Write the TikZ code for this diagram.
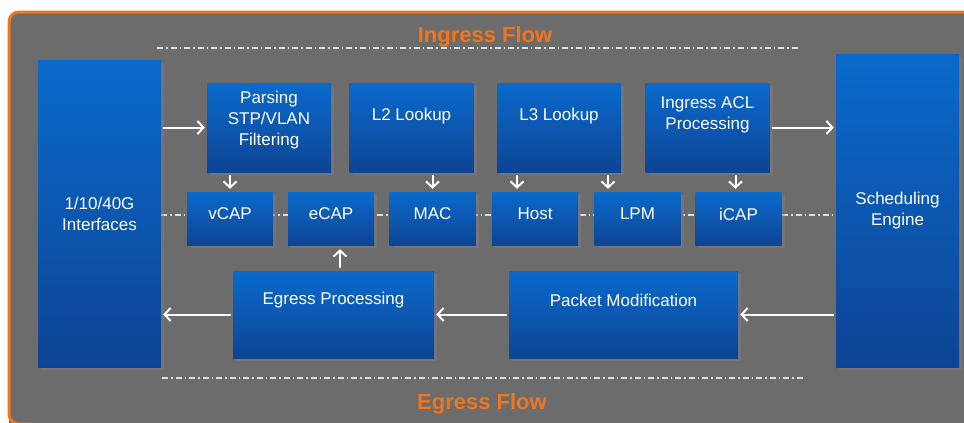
\documentclass[tikz,border=0pt]{standalone}
\usepackage{fontspec}
\setmainfont{Liberation Sans}
\usetikzlibrary{arrows.meta,shadows}
\definecolor{frameGray}{RGB}{108,108,108}
\definecolor{flowOrange}{RGB}{240,118,30}
\definecolor{blockTop}{RGB}{10,106,204}
\definecolor{blockBottom}{RGB}{14,68,148}
\definecolor{dashGray}{RGB}{222,222,222}

\begin{document}
\begin{tikzpicture}[x=1pt, y=-1pt,
    every node/.append style={font=\fontsize{17}{21}\selectfont, text=white, align=center},
    block/.style={rectangle, inner sep=0pt, top color=blockTop, bottom color=blockBottom,
      drop shadow={shadow xshift=3pt, shadow yshift=-3pt, opacity=0.45}},
    bigblock/.style={block, minimum width=124pt, minimum height=89pt},
    smallblock/.style={block, minimum width=86pt, minimum height=53pt, text depth=9pt},
    flow/.style={white, line width=2pt, -{Straight Barb[length=6pt,width=13pt]},
      shorten <=2pt, shorten >=2pt}]
    \tikzstyle{flowtitle} = [font=\fontsize{22}{26}\selectfont\bfseries, text=flowOrange]
    \tikzstyle{divider} = [dashGray, line width=1.4pt, dash pattern=on 6pt off 3pt on 1.5pt off 3pt]
    \useasboundingbox (0,0) rectangle (964,423);
    \fill[white] (0,0) rectangle (964,423);
    \fill[frameGray, rounded corners=10pt] (9,12) rectangle (1000,440);
    \draw[flowOrange, line width=3pt, rounded corners=10pt] (980,12) -- (9,12) -- (9,424) -- (30,424);

    \node[flowtitle] (ingress) at (485,37) {Ingress Flow};
    \node[flowtitle] (egress) at (482,404) {Egress Flow};
    \draw[divider] (157,48) -- (800,48);
    \draw[divider] (161,215) -- (836,215);
    \draw[divider] (162,378) -- (805,378);

    \node[block, minimum width=123pt, minimum height=307pt] (ifc) at (99.5,213.5) {1/10/40G\\Interfaces};
    \node[block, minimum width=123pt, minimum height=313pt] (sched) at (897.5,210.5) {Scheduling\\Engine};

    \node[bigblock] (parse) at (269,127.5) {};
    \node[bigblock] (l2) at (411.5,127.5) {};
    \node[bigblock] (l3) at (559,127.5) {};
    \node[bigblock] (acl) at (707.5,127.5) {};
    \node (parse-txt) at (269,120) {Parsing\\STP/VLAN\\Filtering};
    \node (l2-txt) at (411.5,116) {L2 Lookup};
    \node (l3-txt) at (559,116) {L3 Lookup};
    \node (acl-txt) at (707.5,114.5) {Ingress ACL\\Processing};

    \node[smallblock] (vcap) at (230,218.5) {vCAP};
    \node[smallblock] (ecap) at (331,218.5) {eCAP};
    \node[smallblock] (mac) at (432.5,218.5) {MAC};
    \node[smallblock] (host) at (535,218.5) {Host};
    \node[smallblock] (lpm) at (637.5,218.5) {LPM};
    \node[smallblock] (icap) at (738.5,218.5) {iCAP};

    \node[block, minimum width=201pt, minimum height=87pt] (egr) at (333.5,314.5) {};
    \node[block, minimum width=229pt, minimum height=87pt] (pkt) at (623.5,314.5) {};
    \node (egr-txt) at (333.5,300.5) {Egress Processing};
    \node (pkt-txt) at (623.5,300) {Packet Modification};

    \draw[flow] (ifc.east |- parse.west) -- (parse.west);
    \draw[flow] (acl.east) -- (sched.west |- acl.east);
    \draw[flow, shorten <=3pt, shorten >=3pt] (parse.south -| vcap.north) -- (vcap.north);
    \draw[flow, shorten <=3pt, shorten >=3pt] (l2.south -| mac.north) -- (mac.north);
    \draw[flow, shorten <=3pt, shorten >=3pt] ([xshift=-42pt]l3.south) -- ([xshift=-42pt]l3.south |- host.north);
    \draw[flow, shorten <=3pt, shorten >=3pt] ([xshift=49pt]l3.south) -- ([xshift=49pt]l3.south |- lpm.north);
    \draw[flow, shorten <=3pt, shorten >=3pt] ([xshift=28pt]acl.south) -- ([xshift=28pt]acl.south |- icap.north);
    \draw[flow, shorten <=3pt, shorten >=4pt] ([xshift=6.5pt]egr.north) -- ([xshift=6.5pt]egr.north |- ecap.south);
    \draw[flow] (egr.west) -- (ifc.east |- egr.west);
    \draw[flow] (pkt.west) -- (egr.east);
    \draw[flow] (sched.west |- pkt.east) -- (pkt.east);
\end{tikzpicture}
\end{document}
